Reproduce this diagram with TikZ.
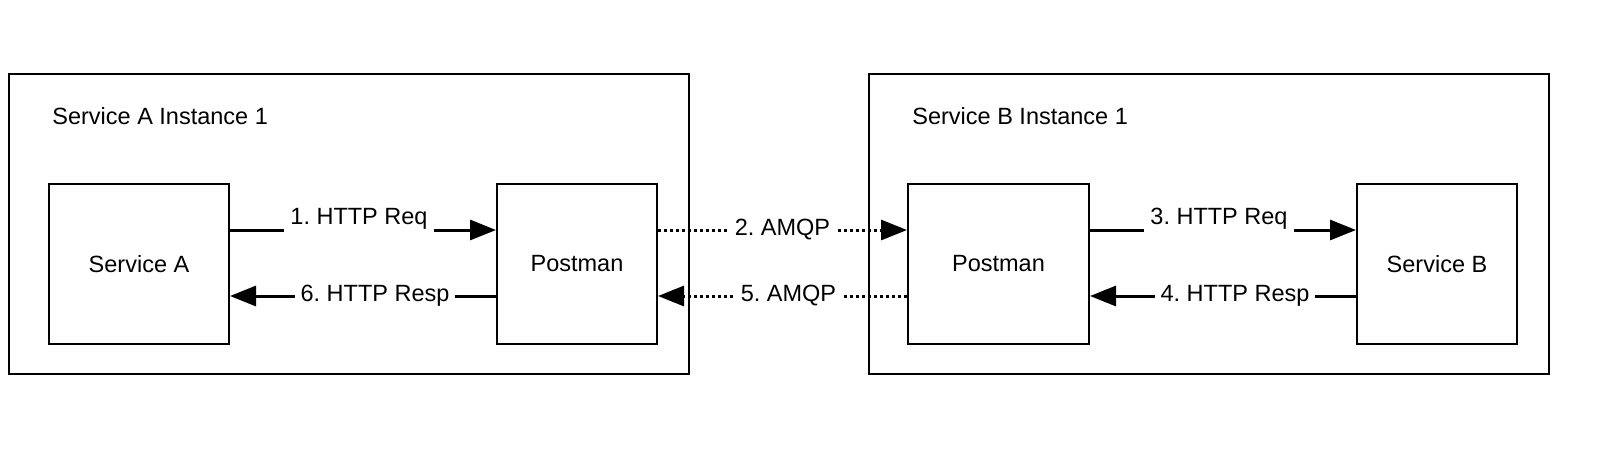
\documentclass[tikz,border=0pt]{standalone}
\usepackage{fontspec}
\setmainfont{Liberation Sans}
\usetikzlibrary{arrows.meta}
\frenchspacing
\begin{document}
\begin{tikzpicture}[x=0.5pt,y=-0.5pt]
% estilos de linea y relleno
\tikzstyle{marco} = [draw=black,line width=1pt,minimum width=340pt,minimum height=150pt]
\tikzstyle{caja} = [draw=black,line width=1pt,minimum height=80pt]
\tikzstyle{flecha} = [line width=1.5pt,-{Triangle[length=13pt,width=10pt]}]
\tikzstyle{punteada} = [flecha,dash pattern=on 1.5pt off 1.5pt]
\tikzstyle{rotulo} = [fill=white,inner sep=3pt]
% definicion conexion entre cajas
% #1: ancla de origen
% #2: ancla de destino
% #3: rotulo de la conexion
% #4: estilo de linea
% #5: desplazamiento vertical de la linea
% #6: desplazamiento del rotulo
\newcommand{\conexion}[6]{
\draw [#4] ([yshift=#5]#1) -- ([yshift=#5]#2)
node [rotulo,midway,#6] {#3};
}
% --------------------------------------
\begin{scope}[font=\fontsize{11.75}{14}\selectfont]
\useasboundingbox (0,0) rectangle (1622,450);
% --------------------------------------
% dibujar marcos
\node [marco] (instA) at (349,223.5) {};
\node [marco] (instB) at (1209,224) {};
\node [anchor=west,inner sep=0] (tituloA) at (52,116) {Service A Instance 1};
\node [anchor=west,inner sep=0] (tituloB) at (912,116) {Service B Instance 1};
% dibujar cajas
\node [caja,minimum width=90pt] (servA) at (139,264) {Service A};
\node [caja,minimum width=80pt] (postA) at (577,264) {Postman};
\node [caja,minimum width=90.5pt] (postB) at (998.5,264) {Postman};
\node [caja,minimum width=80pt] (servB) at (1437,264) {Service B};
% dibujar conexiones
\conexion{servA.east}{postA.west}{1. HTTP Req}{flecha}{17pt}{yshift=5.5pt,xshift=-2pt}
\conexion{postA.east}{postB.west}{2. AMQP}{punteada}{17pt}{}
\conexion{postB.east}{servB.west}{3. HTTP Req}{flecha}{17pt}{yshift=5.5pt,xshift=-2pt}
\conexion{servB.west}{postB.east}{4. HTTP Resp}{flecha}{-16pt}{xshift=6pt}
\conexion{postB.west}{postA.east}{5. AMQP}{punteada}{-16pt}{xshift=3pt}
\conexion{postA.west}{servA.east}{6. HTTP Resp}{flecha}{-16pt}{xshift=6pt}
% --------------------------------------
\end{scope}% --------------------------------------
\end{tikzpicture}
\end{document}
